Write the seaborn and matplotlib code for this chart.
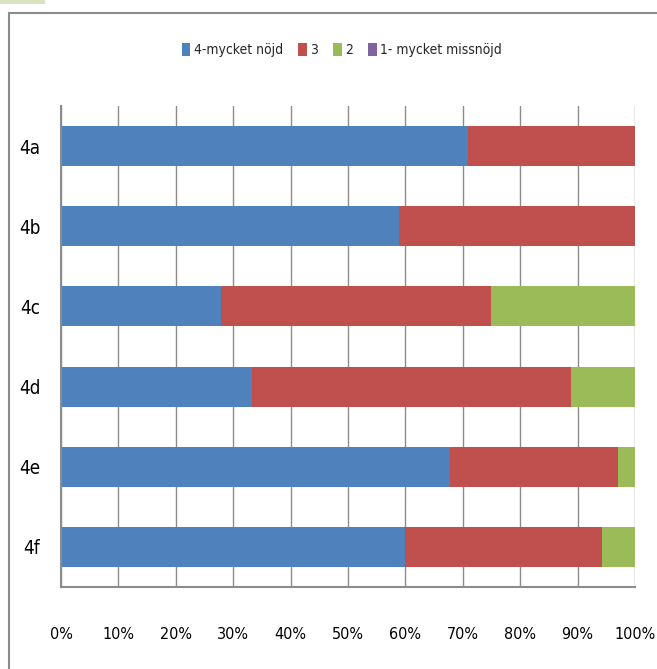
import numpy as np
import pandas as pd
import matplotlib
matplotlib.use("Agg")
import matplotlib.pyplot as plt
from matplotlib.patches import Patch, Rectangle
from matplotlib.ticker import FuncFormatter
import seaborn as sns

# data (percent of answers per question)
questions = ["4a", "4b", "4c", "4d", "4e", "4f"]
very_satisfied = [70.9, 58.8, 27.8, 33.3, 67.7, 60.0]
grade_3 = [29.1, 41.2, 47.2, 55.6, 29.3, 34.2]
grade_2 = [0.0, 0.0, 25.0, 11.1, 3.0, 5.8]
very_dissatisfied = [0.0, 0.0, 0.0, 0.0, 0.0, 0.0]

series_names = ["4-mycket nöjd", "3", "2", "1- mycket missnöjd"]
colors = ["#4F81BD", "#C0504D", "#9BBB59", "#8064A2"]
x_ticks = np.arange(0, 101, 10)

sns.set_theme(style="white")
plt.rcParams["font.family"] = ["DejaVu Sans"]
plt.rcParams["font.stretch"] = "condensed"

df = pd.DataFrame({
    "question": questions,
    series_names[0]: very_satisfied,
    series_names[1]: grade_3,
    series_names[2]: grade_2,
    series_names[3]: very_dissatisfied,
})
cum = df[series_names].cumsum(axis=1)
cum["question"] = df["question"]

fig = plt.figure(figsize=(6.57, 6.69), dpi=100)
ax = fig.add_axes([61 / 657, 1 - 587 / 669, (635 - 61) / 657, (587 - 106) / 669])

# stacked bars: draw the cumulative totals from the last series to the first
for name, col in reversed(list(zip(series_names, colors))):
    sns.barplot(data=cum, y="question", x=name, orient="h", color=col,
                saturation=1, width=0.5, linewidth=0, ax=ax)

ax.set_xlim(0, 100)
ax.set_ylim(5.5, -0.5)
ax.set_xticks(x_ticks)
ax.xaxis.set_major_formatter(FuncFormatter(lambda v, p: f"{v:.0f}%"))
ax.set_xlabel("")
ax.set_ylabel("")
ax.set_axisbelow(True)
ax.grid(axis="x", color="#8c8c8c", linewidth=1)
ax.grid(axis="y", visible=False)
for side in ["top", "right"]:
    ax.spines[side].set_visible(False)
for side in ["left", "bottom"]:
    ax.spines[side].set_color("#8c8c8c")
    ax.spines[side].set_linewidth(1.5)
ax.tick_params(axis="x", labelsize=11.5, pad=29, length=0, colors="black")
ax.tick_params(axis="y", labelsize=13.5, pad=15, length=0, colors="black")

handles = [Patch(facecolor=c, edgecolor="none") for c in colors]
fig.legend(handles, series_names, loc="center", bbox_to_anchor=(342 / 657, 1 - 50 / 669),
           ncol=4, frameon=False, fontsize=10, handlelength=0.6, handleheight=1.1,
           handletextpad=0.25, columnspacing=1.1)

# chart area border (runs off the right and bottom edge) and the green strip
fig.add_artist(Rectangle((9 / 657, -0.1), 1.5, (669 - 13) / 669 + 0.1,
                         transform=fig.transFigure, fill=False,
                         edgecolor="#8c8c8c", linewidth=1.5))
fig.add_artist(Rectangle((0, 1 - 4 / 669), 45 / 657, 4 / 669,
                         transform=fig.transFigure, facecolor="#d7e4bd",
                         edgecolor="none"))

fig.savefig("out.png", dpi=100)
